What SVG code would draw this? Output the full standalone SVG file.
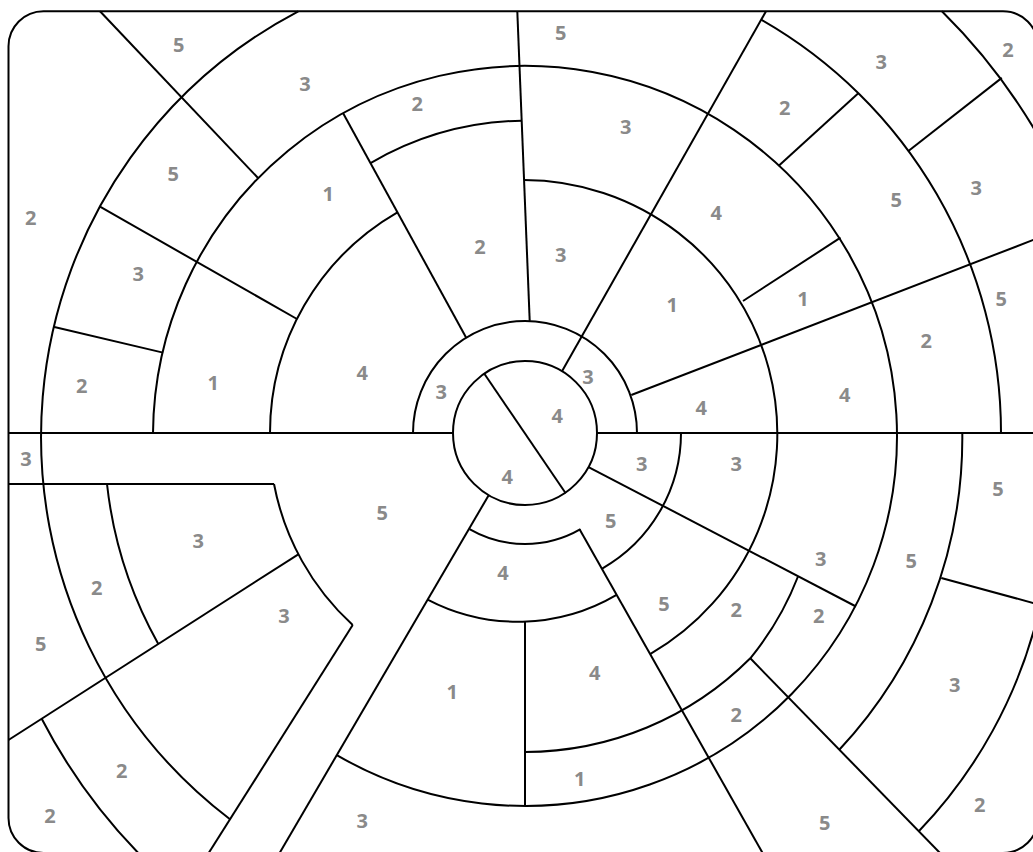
<svg xmlns="http://www.w3.org/2000/svg" width="1033" height="852" viewBox="0 0 1033 852">
<style>
.ln{fill:none;stroke:#000;stroke-width:2;stroke-linejoin:round}
.lb{font-family:"Open Sans","Liberation Sans",sans-serif;font-weight:bold;font-size:20px;fill:#8a8a8a;text-anchor:middle}
</style>
<rect width="1033" height="852" fill="#fff"/>
<g id="frame">
<rect class="ln" x="8.5" y="11.3" width="1029.5" height="841.7" rx="35" ry="35"/>
</g>
<g id="arcs" class="ln">
<circle cx="525" cy="433" r="72"/>
<path d="M413,433 A112,112 0 0 1 637,433"/>
<path d="M469.5,529.1 A111,111 0 0 0 580.5,529.1"/>
<path d="M681,433 A156,156 0 0 1 601.8,568.8"/>
<path d="M427.6,599.6 A195,195 0 0 0 616.6,594.9"/>
<path d="M397.4,212.3 A255,255 0 0 0 270,433"/>
<path d="M274,484 A256,256 0 0 0 352.7,625"/>
<path d="M524,180 A254,254 0 0 1 650.1,654.1"/>
<path d="M370.5,163.1 A311,311 0 0 1 521.7,120.7"/>
<path d="M153,433 A372,370 0 1 1 336.8,755.1"/>
<path d="M298.3,11.3 A481,481 0 0 0 230,819.3"/>
<path d="M761.2,19.7 A476,476 0 0 1 1001,433"/>
<path d="M941.9,11.3 A593,593 0 0 1 1038,135.5"/>
<path d="M962.3,433 A457,457 0 0 1 839.5,749.5"/>
<path d="M1038,614.8 A479,479 0 0 1 918.8,831.3"/>
<path d="M107,484 A422,422 0 0 0 158.3,644"/>
<path d="M41.7,718.7 A566,566 0 0 0 138.3,853"/>
<path d="M525,752 A319,319 0 0 0 750.3,658.3 A300,300 0 0 0 798,576.5"/>
</g>
<g id="connectors" class="ln">
<path d="M100,11.3 L258.3,178.3"/>
<path d="M100,206.7 L297,319"/>
<path d="M53.3,326.7 L163,352.6"/>
<path d="M343,113 L466.2,337.7"/>
<path d="M517.3,11.3 L529.7,320.9"/>
<path d="M766,11.3 L562,371.3"/>
<path d="M631.3,395 L1038,238.1"/>
<path d="M743,301 L840.5,237.7"/>
<path d="M778.5,166.1 L858.3,93.2"/>
<path d="M908.1,151.2 L1001.8,77.9"/>
<path d="M8.5,433 L453,433"/>
<path d="M597,433 L1038,433"/>
<path d="M8.5,484 L274,484"/>
<path d="M8.5,740 L298.3,554.3"/>
<path d="M352.7,625 L208.7,853"/>
<path d="M488.7,495.2 L279.6,853"/>
<path d="M579.7,529.6 L762.6,853"/>
<path d="M484,373.3 L565.7,493.3"/>
<path d="M589,467.3 L856,606.5"/>
<path d="M750.3,658.3 L940,853"/>
<path d="M525,621.5 L525,806"/>
<path d="M941.3,578 L1038,604.3"/>
</g>
<g id="labels" class="lb">
<text x="178.7" y="52">5</text>
<text x="560.7" y="40.3">5</text>
<text x="1008" y="57">2</text>
<text x="881.3" y="68.7">3</text>
<text x="305" y="91.3">3</text>
<text x="417.3" y="111">2</text>
<text x="784.7" y="115.3">2</text>
<text x="625.7" y="133.7">3</text>
<text x="173.3" y="181">5</text>
<text x="328.3" y="201">1</text>
<text x="976.3" y="195.3">3</text>
<text x="896.3" y="207">5</text>
<text x="716.3" y="220.3">4</text>
<text x="30.7" y="225.3">2</text>
<text x="480" y="253.7">2</text>
<text x="560.7" y="262">3</text>
<text x="138.3" y="281">3</text>
<text x="672.3" y="311.7">1</text>
<text x="803" y="306">1</text>
<text x="1001.3" y="306">5</text>
<text x="926.3" y="347.7">2</text>
<text x="362.3" y="380.3">4</text>
<text x="588" y="383.7">3</text>
<text x="81.7" y="392.7">2</text>
<text x="213.3" y="390">1</text>
<text x="441.3" y="399.3">3</text>
<text x="844.7" y="401.7">4</text>
<text x="701.3" y="415">4</text>
<text x="557.3" y="423.3">4</text>
<text x="26" y="466">3</text>
<text x="641.7" y="471">3</text>
<text x="736.3" y="471">3</text>
<text x="507.3" y="483.7">4</text>
<text x="998" y="496">5</text>
<text x="382.3" y="520.3">5</text>
<text x="610.7" y="527.7">5</text>
<text x="198.3" y="547.7">3</text>
<text x="820.7" y="566">3</text>
<text x="911.3" y="567.7">5</text>
<text x="503" y="580">4</text>
<text x="96.7" y="595">2</text>
<text x="664" y="611">5</text>
<text x="736.3" y="616.7">2</text>
<text x="284" y="623.3">3</text>
<text x="818.7" y="623.3">2</text>
<text x="40.7" y="651">5</text>
<text x="954.7" y="692.3">3</text>
<text x="594.7" y="680">4</text>
<text x="452.3" y="699">1</text>
<text x="736.3" y="722.3">2</text>
<text x="121.7" y="778.3">2</text>
<text x="579.7" y="785.7">1</text>
<text x="979.7" y="811.7">2</text>
<text x="50" y="823.3">2</text>
<text x="362.3" y="827.7">3</text>
<text x="824.7" y="830">5</text>
</g>
</svg>
